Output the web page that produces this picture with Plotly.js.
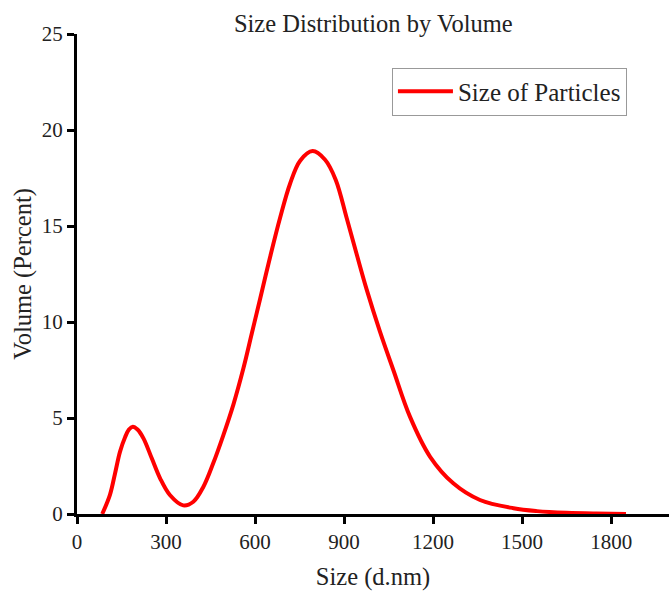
<!DOCTYPE html>
<html>
<head>
<meta charset="utf-8">
<script src="https://cdn.plot.ly/plotly-3.0.1.min.js"></script>
<style>html,body{margin:0;padding:0;background:#fff;}#chart{width:669px;height:591px;}</style>
</head>
<body>
<div id="chart"></div>
<script>
const sizeNm = [85, 111, 128, 145, 162, 175, 188, 204, 224, 252, 280, 313, 358, 392, 426, 459, 493, 527, 561, 589, 617, 651, 684, 718, 752, 794, 836, 872, 909, 943, 976, 1021, 1066, 1122, 1190, 1268, 1358, 1471, 1550, 1650, 1750, 1850];
const volumePct = [0, 1.0, 2.1, 3.25, 4.0, 4.4, 4.55, 4.4, 3.94, 2.9, 1.86, 0.99, 0.45, 0.64, 1.42, 2.64, 4.1, 5.7, 7.6, 9.4, 11.2, 13.4, 15.4, 17.2, 18.4, 18.9, 18.45, 17.4, 15.4, 13.5, 11.7, 9.5, 7.5, 5.07, 2.98, 1.6, 0.73, 0.3, 0.15, 0.06, 0.02, 0];
const xTicks = [0, 300, 600, 900, 1200, 1500, 1800];
const yTicks = [0, 5, 10, 15, 20, 25];

const font = '"Liberation Serif", "Times New Roman", serif';

const trace = {
  x: sizeNm, y: volumePct, type: 'scatter', mode: 'lines',
  name: 'Size of Particles',
  line: {color: '#ff0000', width: 4, shape: 'spline', smoothing: 1},
  cliponaxis: true
};

const layout = {
  width: 669, height: 591,
  margin: {l: 77, r: 0, t: 34, b: 77},
  paper_bgcolor: '#fff', plot_bgcolor: '#fff',
  font: {family: font, color: '#222', size: 21},
  title: {text: 'Size Distribution by Volume', font: {family: font, size: 24.5, color: '#222'},
          x: 0.558, xanchor: 'center', y: 0.961, yanchor: 'middle'},
  showlegend: true,
  legend: {x: 0.532, y: 0.93, xanchor: 'left', yanchor: 'top', itemwidth: 55,
           bordercolor: '#999', borderwidth: 1, bgcolor: '#fff',
           font: {family: font, size: 25, color: '#222'}},
  xaxis: {
    range: [0, 1995], tickvals: xTicks, ticktext: xTicks.map(String),
    showgrid: false, zeroline: false, showline: true, linecolor: '#000', linewidth: 3,
    ticks: 'outside', ticklen: 7, tickwidth: 3, tickcolor: '#000',
    tickfont: {family: font, size: 21, color: '#222'},
    title: {text: 'Size (d.nm)', font: {family: font, size: 24.5, color: '#222'}, standoff: 15}
  },
  yaxis: {
    range: [0, 25], tickvals: yTicks, ticktext: yTicks.map(String),
    showgrid: false, zeroline: false, showline: true, linecolor: '#000', linewidth: 3,
    ticks: 'outside', ticklen: 7, tickwidth: 3, tickcolor: '#000',
    tickfont: {family: font, size: 21, color: '#222'},
    title: {text: 'Volume (Percent)', font: {family: font, size: 24.5, color: '#222'}, standoff: 4}
  }
};

Plotly.newPlot('chart', [trace], layout, {displayModeBar: false, staticPlot: true});
</script>
</body>
</html>
